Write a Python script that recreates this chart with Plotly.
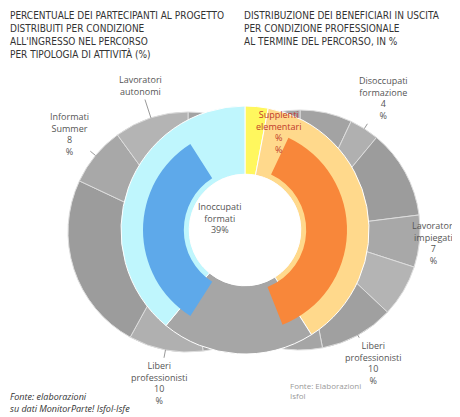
"""Ciambelle sovrapposte: condizione dei partecipanti"""

import math

import plotly.graph_objects as go

W, H = 460, 417

# ciambella grigia sinistra (senso orario da ore 12)
left_labels = ["Altri", "Liberi professionisti", "Altri inattivi", "Informati Summer", "Lavoratori autonomi"]
left_values = [48, 10, 24, 8, 10]
left_text = ["", "Liberi<br>professionisti<br>10<br>%", "", "Informati<br>Summer<br>8<br>%", "Lavoratori<br>autonomi"]

# ciambella grigia destra
right_labels = ["A", "Disoccupati", "B", "Impiegati", "C", "Liberi professionisti", "D"]
right_values = [7, 4, 12, 7, 7, 10, 53]
right_text = ["", "Disoccupati<br>formazione<br>4<br>%", "", "Lavoratori<br>impiegati<br>7<br>%", "",
              "Liberi<br>professionisti<br>10<br>%", ""]

# ciambella colorata centrale
mid_labels = ["Supplenti", "Occupati", "Altro", "Inoccupati"]
mid_values = [3, 38, 20, 39]
mid_colors = ["#fff75e", "#ffd98c", "#a6a6a6", "#bff6fd"]

# anello interno
inner_labels = ["v1", "Occupati stabili", "v2", "Inoccupati formati", "v3"]
inner_values = [7, 37, 15, 32, 9]
inner_colors = ["rgba(0,0,0,0)", "#f8873a", "rgba(0,0,0,0)", "#5ea9ea", "rgba(0,0,0,0)"]


def dom(cx, cy, r):
    return dict(x=[(cx - r) / W, (cx + r) / W], y=[1 - (cy + r) / H, 1 - (cy - r) / H])


def add_labels(fig, values, texts, cx, cy, r, dr, color="#555555", xshift=0):
    """etichette esterne con linea guida, posizionate al centro di ogni fetta"""
    total = sum(values)
    cum = 0
    for v, t, d in zip(values, texts, dr):
        mid = (cum + v / 2) / total * 2 * math.pi
        cum += v
        if not t:
            continue
        px = cx + r * math.sin(mid)
        py = cy - r * math.cos(mid)
        fig.add_annotation(
            x=px / W, y=1 - py / H, xref="paper", yref="paper",
            ax=d * math.sin(mid) + xshift, ay=-d * math.cos(mid),
            text=t, showarrow=True, arrowhead=0, arrowwidth=1, arrowcolor="#999999",
            font=dict(size=9, color=color), align="center",
        )


grays = ["#a3a3a3", "#b0b0b0", "#9c9c9c", "#a8a8a8", "#b4b4b4", "#a0a0a0", "#a5a5a5"]

fig = go.Figure()

fig.add_trace(go.Pie(
    labels=left_labels, values=left_values, hole=0.55, sort=False,
    direction="clockwise", rotation=0, domain=dom(180, 224, 120),
    marker=dict(colors=grays[:5], line=dict(color="#dddddd", width=1)),
    textinfo="none", showlegend=False,
))

fig.add_trace(go.Pie(
    labels=right_labels, values=right_values, hole=0.55, sort=False,
    direction="clockwise", rotation=0, domain=dom(292, 222, 120),
    marker=dict(colors=grays, line=dict(color="#dddddd", width=1)),
    textinfo="none", showlegend=False,
))

fig.add_trace(go.Pie(
    labels=mid_labels, values=mid_values, hole=0.45, sort=False,
    direction="clockwise", rotation=0, domain=dom(237, 222, 124),
    marker=dict(colors=mid_colors, line=dict(color="white", width=1)),
    textinfo="none", showlegend=False,
))

# foro centrale bianco
fig.add_trace(go.Pie(
    labels=["centro"], values=[1], sort=False, domain=dom(237, 222, 56),
    marker=dict(colors=["white"], line=dict(width=0)),
    textinfo="none", hoverinfo="skip", showlegend=False,
))

fig.add_trace(go.Pie(
    labels=inner_labels, values=inner_values, hole=0.6, sort=False,
    direction="clockwise", rotation=0, domain=dom(237, 222, 102),
    marker=dict(colors=inner_colors, line=dict(width=0)),
    textinfo="none", hoverinfo="label+percent", showlegend=False,
))

add_labels(fig, left_values, left_text, 180, 224, 120, [34] * 5)
add_labels(fig, right_values, right_text, 292, 222, 120, [0, 36, 0, 14, 0, 32, 0])
add_labels(fig, mid_values, ["Supplenti<br>elementari<br>%<br>%", "", "", ""], 237, 222, 108, [-10] * 4,
           color="#c0392b", xshift=24)

fig.add_annotation(x=212 / W, y=1 - 210 / H, xref="paper", yref="paper", showarrow=False,
                   text="Inoccupati<br>formati<br>39%", font=dict(size=9, color="#555555"))

fig.add_annotation(x=0, y=1, xref="paper", yref="paper", xanchor="left", yanchor="top", showarrow=False,
                   align="left",
                   text="PERCENTUALE DEI PARTECIPANTI AL PROGETTO<br>DISTRIBUITI PER CONDIZIONE<br>"
                        "ALL'INGRESSO NEL PERCORSO<br>PER TIPOLOGIA DI ATTIVITÀ (%)",
                   font=dict(family="DejaVu Sans Condensed", size=10, color="#333333"))
fig.add_annotation(x=234 / W, y=1, xref="paper", yref="paper", xanchor="left", yanchor="top", showarrow=False,
                   align="left",
                   text="DISTRIBUZIONE DEI BENEFICIARI IN USCITA<br>PER CONDIZIONE PROFESSIONALE<br>"
                        "AL TERMINE DEL PERCORSO, IN %",
                   font=dict(family="DejaVu Sans Condensed", size=10, color="#333333"))

fig.add_annotation(x=0, y=8 / H, xref="paper", yref="paper", xanchor="left", yanchor="bottom", showarrow=False,
                   align="left", text="<i>Fonte: elaborazioni<br>su dati MonitorParte! Isfol-Isfe</i>",
                   font=dict(size=9, color="#333333"))
fig.add_annotation(x=280 / W, y=1 - 395 / H, xref="paper", yref="paper", xanchor="left", showarrow=False,
                   align="left", text="Fonte: Elaborazioni<br>Isfol",
                   font=dict(size=8, color="#999999"))

fig.update_layout(
    width=W, height=H,
    margin=dict(l=0, r=0, t=0, b=0),
    paper_bgcolor="white",
    font=dict(family="Open Sans"),
)

fig.write_html("out.html")
